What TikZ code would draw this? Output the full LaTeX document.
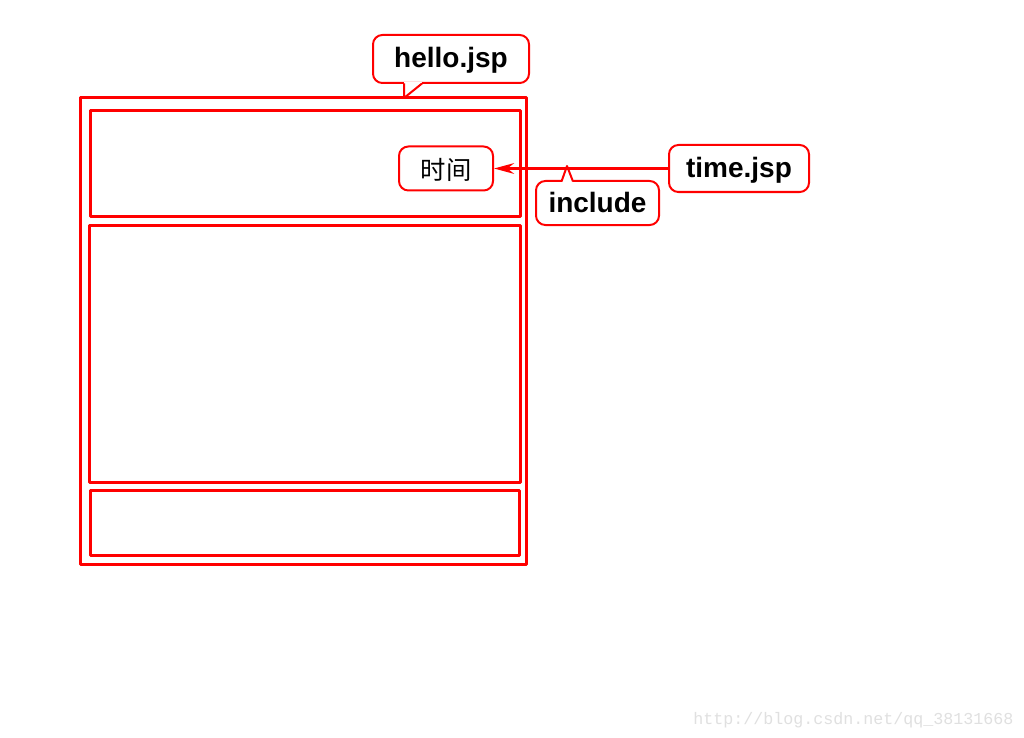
\documentclass[tikz,border=0pt]{standalone}
\usepackage{fontspec}
\setmainfont{Liberation Sans}
\newfontfamily\cjk{Noto Sans CJK SC}
\newfontfamily\wmfont{Liberation Mono}
\usetikzlibrary{arrows.meta}

\tikzset{
	frame/.style={draw=red, line width=2.25pt},
	bubble/.style={draw=red, line width=1.5pt, rounded corners=7pt, fill=white, inner sep=0pt,
		text height=15pt, text depth=1.5pt,
		font=\fontsize{21}{25}\selectfont\bfseries},
	tail/.style={draw=red, line width=1.5pt, fill=white, line join=miter}
}

\begin{document}
\begin{tikzpicture}[x=0.75pt, y=-0.75pt, line join=round]
	\useasboundingbox[fill=white] (0,0) rectangle (1024,738);
	
	% ==========================================
	% Trang hello.jsp: khung ngoài và 3 khung con
	% ==========================================
	\draw[frame] (80,98) rectangle (526,564);
	\draw[frame] (90,111) rectangle (520,216);
	\draw[frame] (89,225) rectangle (520,482);
	\draw[frame] (90,490) rectangle (519,555);
	\coordinate (page) at (404,98);
	
	% Chú thích hello.jsp
	\node[bubble, minimum width=117pt, minimum height=36pt] (hello) at (451,59) {hello.jsp};
	\fill[white] (404,82) -- (404,86) -- (422,86) -- (422,82) -- cycle;
	\draw[red, line width=1.5pt] (404,83.5) -- (page) -- (422,83.5);
	
	% ==========================================
	% Ô thời gian và time.jsp
	% ==========================================
	\node[bubble, minimum width=70.5pt, minimum height=33pt, text height=16pt, text depth=0pt,
		font=\fontsize{19}{23}\selectfont\cjk] (shijian) at (446,168.5) {时间};
	\node[bubble, minimum width=105pt, minimum height=35.25pt] (timejsp) at (739,168.5) {time.jsp};
	
	% Mũi tên include
	\draw[red, line width=2.25pt, -{Stealth[length=15pt, width=8pt, inset=5pt]}] (timejsp.west) -- (shijian.east);
	\coordinate (inc) at (567,166);
	
	% Chú thích include
	\node[bubble, minimum width=92.25pt, minimum height=33pt] (include) at (597.5,203) {include};
	\fill[white] (561.5,179) -- (561.5,183) -- (573,183) -- (573,179) -- cycle;
	\draw[red, line width=1.5pt] (561.5,181.5) -- (inc) -- (573,181.5);
	
	% Watermark
	\node[anchor=base west, inner sep=0pt, text=black!12, font=\fontsize{12.5}{14}\selectfont\wmfont] (wm) at (693,724) {http://blog.csdn.net/qq\_38131668};
\end{tikzpicture}
\end{document}
